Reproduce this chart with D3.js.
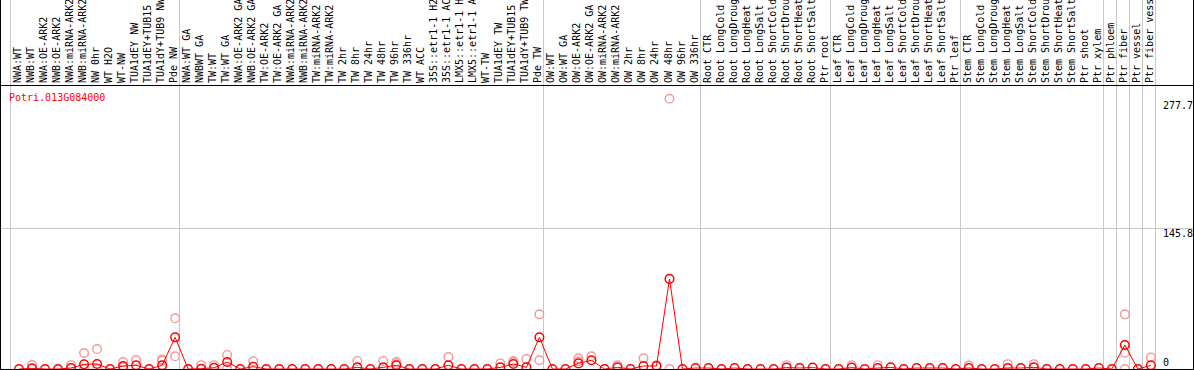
<!DOCTYPE html>
<html>
  <head>
    <meta charset="UTF-8">
    <style>
      body {
        margin: 0;
        background: white;
      }
      svg {
        display: block;
      }
      text {
        font-family: "DejaVu Sans Mono", monospace;
        font-size: 10px;
      }
    </style>
    <script src="https://d3js.org/d3.v7.min.js"></script>
  </head>

  <body>
    <svg id="chart"></svg>

    <script type="text/javascript">
      const geneName = 'Potri.013G084000'

      const labels = [
        'NWA:WT', 'NWB:WT', 'NWA:OE-ARK2', 'NWB:OE-ARK2', 'NWA:miRNA-ARK2', 'NWB:miRNA-ARK2',
        'NW 0hr', 'WT H2O', 'WT-NW', 'TUA1dEY NW', 'TUA1dEY+TUB15', 'TUA1dY+TUB9 NW', 'Pde NW',
        'NWA:WT GA', 'NWBWT GA', 'TW:WT', 'TW:WT GA', 'NWA:OE-ARK2 GA', 'NWB:OE-ARK2 GA',
        'TW:OE-ARK2', 'TW:OE-ARK2 GA', 'NWA:miRNA-ARK2 ', 'NWB:miRNA-ARK2 ', 'TW:miRNA-ARK2',
        'TW:miRNA-ARK2 ', 'TW 2hr', 'TW 8hr', 'TW 24hr', 'TW 48hr', 'TW 96hr', 'TW 336hr', 'WT ACC',
        '35S::etr1-1 H2O', '35S::etr1-1 ACC', 'LMX5::etr1-1 H2O', 'LMX5::etr1-1 ACC', 'WT-TW',
        'TUA1dEY TW', 'TUA1dEY+TUB15 ', 'TUA1dY+TUB9 TW', 'Pde TW',
        'OW:WT', 'OW:WT GA', 'OW:OE-ARK2', 'OW:OE-ARK2 GA', 'OW:miRNA-ARK2', 'OW:miRNA-ARK2 ',
        'OW 2hr', 'OW 8hr', 'OW 24hr', 'OW 48hr', 'OW 96hr', 'OW 336hr',
        'Root CTR', 'Root LongCold', 'Root LongDrought', 'Root LongHeat', 'Root LongSalt',
        'Root ShortCold', 'Root ShortDrought', 'Root ShortHeat', 'Root ShortSalt', 'Ptr root',
        'Leaf CTR', 'Leaf LongCold', 'Leaf LongDrought', 'Leaf LongHeat', 'Leaf LongSalt',
        'Leaf ShortCold', 'Leaf ShortDrought', 'Leaf ShortHeat', 'Leaf ShortSalt', 'Ptr leaf',
        'Stem CTR', 'Stem LongCold', 'Stem LongDrought', 'Stem LongHeat', 'Stem LongSalt',
        'Stem ShortCold', 'Stem ShortDrought', 'Stem ShortHeat', 'Stem ShortSalt', 'Ptr shoot',
        'Ptr xylem', 'Ptr phloem', 'Ptr fiber', 'Ptr vessel', 'Ptr fiber vessel'
      ]

      const groupSizes = [13, 28, 12, 10, 10, 11, 1, 1, 1, 1]

      const means = [
        0, 0.7, 0, 0, 1, 4.8, 5.2, 0, 3.1, 3.8, 0, 3.8, 32.7,
        0, 0.3, 1.3, 7.2, 0, 2.4, 0, 0, 0, 0, 0, 0, 0, 1.7, 0, 1.7, 3.8, 0, 0, 0, 3.8, 0, 0, 0, 1.7, 5.2, 1.7, 32.7,
        0, 0, 5.8, 9, 0, 1.7, 0, 3.1, 3.1, 93, 0, 1,
        1, 0, 1, 0, 0, 0, 1.5, 1, 1.5, 0,
        0, 1.5, 0, 1, 1.7, 0, 1, 1, 1, 0,
        1, 0, 0, 1, 1, 1.7, 0, 0, 0, 0, 1,
        0, 24.8, 0, 3.8
      ]

      const replicates = [
        [], [4.1], [], [], [4], [16.5, 0], [20.6, 0], [], [7.2, 2], [9.3], [], [8.6, 9.9], [52.3, 13.1],
        [], [4], [4], [14.5, 0], [], [7.9], [], [], [], [], [], [], [], [8.3], [], [8.3], [7.2, 5],
        [], [], [], [12.4], [], [], [], [5.8], [8.3, 7.2], [10.3], [56.4, 9],
        [], [], [11, 8], [13.1], [], [4], [], [11], [4], [279, 0], [], [],
        [], [], [], [], [], [], [4], [], [], [],
        [], [4], [], [4], [], [], [], [], [], [],
        [3.5], [], [], [5], [], [5], [], [], [], [], [],
        [], [56.4, 16.8, 0], [], [12]
      ]

      const yTicks = [0, 145.8, 277.7]
      const yMax = 277.7

      function getConfig() {
        let width = 1194
        let height = 370
        let top = 85
        let plotTop = 100
        let bottom = 369
        let left = 10
        let step = 13.01
        let container = d3.select('#chart')
          .attr('width', width)
          .attr('height', height)
        return {width, height, top, plotTop, bottom, left, step, container}
      }

      function getScales(config) {
        let {left, step, bottom, plotTop} = config
        let xScale = d3.scaleBand()
          .domain(labels)
          .range([left, left + labels.length * step])
        let yScale = d3.scaleLinear()
          .domain([0, yMax])
          .range([bottom, plotTop])
        let xPoint = d => xScale(d) + 9
        return {xScale, yScale, xPoint}
      }

      function drawGrid(scales, config) {
        let {xScale, yScale} = scales
        let {container, width, bottom} = config

        // group separators
        let seps = [xScale(labels[0])]
        let idx = 0
        groupSizes.forEach(n => {
          idx += n
          seps.push(xScale(labels[idx - 1]) + xScale.bandwidth())
        })
        container.selectAll('.sep')
          .data(seps)
          .enter().append('line')
          .attr('x1', d => Math.round(d) + 0.5)
          .attr('x2', d => Math.round(d) + 0.5)
          .attr('y1', 0)
          .attr('y2', bottom)
          .attr('stroke', '#c8c8c8')

        container.selectAll('.hgrid')
          .data(yTicks.filter(d => d > 0 && d < yMax))
          .enter().append('line')
          .attr('x1', 1)
          .attr('x2', width - 1)
          .attr('y1', d => Math.round(yScale(d)) + 0.5)
          .attr('y2', d => Math.round(yScale(d)) + 0.5)
          .attr('stroke', '#c8c8c8')
      }

      function drawFrame(config) {
        let {container, width, top, bottom} = config
        let black = '#000'
        container.append('line')
          .attr('x1', 0).attr('x2', width).attr('y1', top + 0.5).attr('y2', top + 0.5)
          .attr('stroke', black)
        container.append('line')
          .attr('x1', 0).attr('x2', width).attr('y1', bottom + 0.5).attr('y2', bottom + 0.5)
          .attr('stroke', black)
        container.append('line')
          .attr('x1', 0.5).attr('x2', 0.5).attr('y1', 0).attr('y2', bottom)
          .attr('stroke', black)
        container.append('line')
          .attr('x1', width - 0.5).attr('x2', width - 0.5).attr('y1', 0).attr('y2', bottom)
          .attr('stroke', black)
      }

      function drawLabels(scales, config) {
        let {xPoint} = scales
        let {container, top} = config
        container.selectAll('.label')
          .data(labels)
          .enter().append('text')
          .attr('transform', d => `translate(${xPoint(d) - 1.5}, ${top - 2}) rotate(-90)`)
          .attr('dy', '0.35em')
          .attr('fill', '#000')
          .text(d => d.trim())

        container.append('text')
          .attr('x', 9)
          .attr('y', 101)
          .attr('fill', '#ff0000')
          .text(geneName)

        let {yScale} = scales
        let {width} = config
        container.selectAll('.ytick')
          .data(yTicks)
          .enter().append('text')
          .attr('x', width - 31)
          .attr('y', d => d === 0 ? yScale(d) - 3 : yScale(d) + 9)
          .attr('fill', '#000')
          .text(d => d)
      }

      function drawSeries(scales, config) {
        let {xPoint, yScale} = scales
        let {container} = config

        let reps = []
        labels.forEach((l, i) => replicates[i].forEach(v => reps.push({l, v})))

        container.selectAll('.rep')
          .data(reps)
          .enter().append('circle')
          .attr('cx', d => xPoint(d.l))
          .attr('cy', d => yScale(d.v))
          .attr('r', 4.3)
          .attr('fill', 'none')
          .attr('stroke', '#f09a9a')
          .attr('stroke-width', 1.4)

        let pts = labels.map((l, i) => ({l, v: means[i]}))
        let line = d3.line()
          .x(d => xPoint(d.l))
          .y(d => yScale(d.v))
        container.append('path')
          .datum(pts)
          .attr('d', line)
          .attr('fill', 'none')
          .attr('stroke', '#ff0000')
          .attr('stroke-width', 1)

        container.selectAll('.mean')
          .data(pts)
          .enter().append('circle')
          .attr('cx', d => xPoint(d.l))
          .attr('cy', d => yScale(d.v))
          .attr('r', 4.3)
          .attr('fill', 'none')
          .attr('stroke', '#ff0000')
          .attr('stroke-width', 1.5)
      }

      function drawChart() {
        let config = getConfig()
        let scales = getScales(config)
        drawGrid(scales, config)
        drawLabels(scales, config)
        drawSeries(scales, config)
        drawFrame(config)
      }

      drawChart()
    </script>
  </body>
</html>
